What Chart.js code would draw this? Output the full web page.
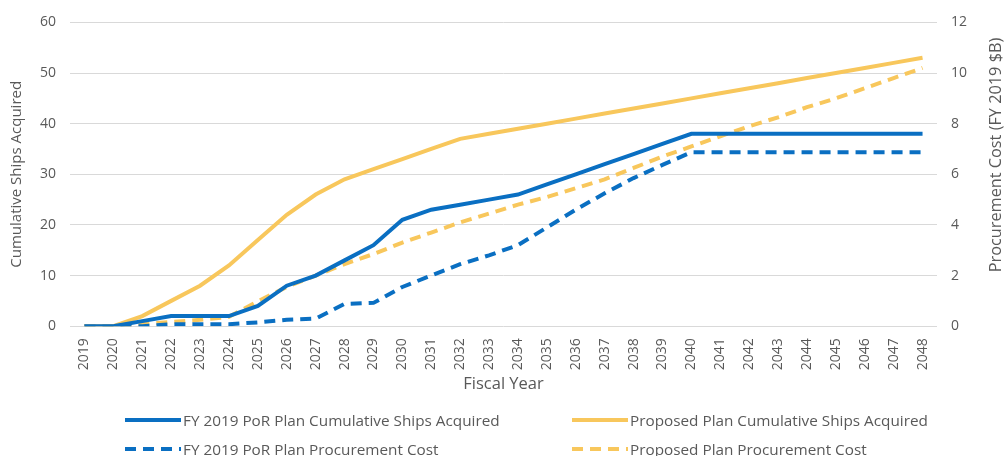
<!DOCTYPE html>
<html>
<head>
<meta charset="utf-8">
<script src="https://cdn.jsdelivr.net/npm/chart.js@4"></script>
<style>
  html, body { margin: 0; padding: 0; background: #fff; }
  #wrap { position: relative; width: 1007px; height: 456px; }
  #legend { position: absolute; left: 0; top: 0; width: 1007px; height: 456px; pointer-events: none;
            font-family: "Open Sans", sans-serif; font-size: 15.3px; color: #595959; }
  .item { position: absolute; display: flex; align-items: center; height: 20px; white-space: nowrap; }
  .item svg { margin-right: 2px; }
</style>
</head>
<body>
<div id="wrap">
  <canvas id="shipChart" width="1007" height="456"></canvas>
  <div id="legend"></div>
</div>
<script>
// --------- Data ---------
const years = [];
for (let y = 2019; y <= 2048; y++) years.push(String(y));

// left axis: cumulative ships
const porShips = [0, 0, 1, 2, 2, 2, 4, 8, 10, 13, 16, 21, 23, 24, 25, 26, 28, 30, 32, 34, 36, 38,
                  38, 38, 38, 38, 38, 38, 38, 38];
const proposedShips = [0, 0, 2, 5, 8, 12, 17, 22, 26, 29, 31, 33, 35, 37, 38, 39, 40, 41, 42, 43, 44, 45,
                       46, 47, 48, 49, 50, 51, 52, 53];

// right axis: procurement cost (FY 2019 $B)
const porCost = [0, 0, 0, 0.08, 0.08, 0.08, 0.15, 0.25, 0.3, 0.88, 0.92, 1.55, 2.0, 2.45, 2.8, 3.2, 3.9, 4.6, 5.25, 5.85, 6.37, 6.87,
                 6.87, 6.87, 6.87, 6.87, 6.87, 6.87, 6.87, 6.87];
const proposedCost = [0, 0, 0.09, 0.17, 0.25, 0.37, 0.98, 1.55, 2.0, 2.45, 2.85, 3.3, 3.7, 4.1, 4.45, 4.8, 5.1, 5.45, 5.8, 6.25, 6.7, 7.1,
                      7.5, 7.9, 8.25, 8.65, 9.0, 9.4, 9.8, 10.2];

const leftTicks = [0, 10, 20, 30, 40, 50, 60];
const rightTicks = [0, 2, 4, 6, 8, 10, 12];

const BLUE = '#0A6FC2';
const YELLOW = '#F8C75C';
const TEXT = '#595959';
const FONT = '"Open Sans", sans-serif';
const RIGHT_TITLE = 'Procurement Cost (FY 2019 $B)';

const datasets = [
    { label: 'FY 2019 PoR Plan Cumulative Ships Acquired', data: porShips, borderColor: BLUE, yAxisID: 'y', dash: [] },
    { label: 'Proposed Plan Cumulative Ships Acquired', data: proposedShips, borderColor: YELLOW, yAxisID: 'y', dash: [] },
    { label: 'FY 2019 PoR Plan Procurement Cost', data: porCost, borderColor: BLUE, yAxisID: 'y1', dash: [11, 7] },
    { label: 'Proposed Plan Procurement Cost', data: proposedCost, borderColor: YELLOW, yAxisID: 'y1', dash: [11, 7] }
].map((d, i) => ({
    label: d.label,
    data: d.data,
    yAxisID: d.yAxisID,
    borderColor: d.borderColor,
    backgroundColor: d.borderColor,
    borderWidth: 4,
    borderDash: d.dash,
    pointRadius: 0,
    tension: 0,
    fill: false,
    order: i + 1
}));

// right axis title reads bottom-to-top like the left one
const rightTitlePlugin = {
    id: 'rightTitle',
    afterDraw(chart) {
        const c = chart.ctx;
        c.save();
        c.translate(996, 155);
        c.rotate(-Math.PI / 2);
        c.fillStyle = TEXT;
        c.font = '16.3px ' + FONT;
        c.textAlign = 'center';
        c.textBaseline = 'middle';
        c.fillText(RIGHT_TITLE, 0, 0);
        c.restore();
    }
};

const ctx = document.getElementById('shipChart').getContext('2d');
const shipChart = new Chart(ctx, {
    type: 'line',
    data: { labels: years, datasets: datasets },
    plugins: [rightTitlePlugin],
    options: {
        responsive: false,
        animation: false,
        layout: { padding: { top: 10, bottom: 62, left: 8, right: 8 } },
        plugins: {
            legend: { display: false },
            tooltip: { enabled: false }
        },
        scales: {
            x: {
                offset: true,
                grid: { display: false },
                border: { display: false },
                ticks: { color: TEXT, font: { family: FONT, size: 14 }, minRotation: 90, maxRotation: 90, autoSkip: false, padding: 4 },
                title: { display: true, text: 'Fiscal Year', color: TEXT, font: { family: FONT, size: 16.5 }, padding: { top: 0, bottom: 0 } }
            },
            y: {
                position: 'left',
                min: 0, max: 60,
                afterBuildTicks: axis => { axis.ticks = leftTicks.map(v => ({ value: v })); },
                grid: { color: '#D9D9D9', lineWidth: 1, drawTicks: false },
                border: { display: false },
                ticks: { color: TEXT, font: { family: FONT, size: 14 }, padding: 14 },
                title: { display: true, text: 'Cumulative Ships Acquired', color: TEXT, font: { family: FONT, size: 15 }, padding: 0 }
            },
            y1: {
                position: 'right',
                min: 0, max: 12,
                afterBuildTicks: axis => { axis.ticks = rightTicks.map(v => ({ value: v })); },
                grid: { display: false, drawTicks: false },
                border: { display: false },
                ticks: { color: TEXT, font: { family: FONT, size: 14 }, padding: 14 },
                title: { display: true, text: RIGHT_TITLE, color: 'rgba(0,0,0,0)', font: { family: FONT, size: 15 }, padding: 0 }
            }
        }
    }
});

// --------- Legend (HTML, two columns) ---------
const legendPos = [
    { x: 125, y: 410 }, { x: 572, y: 410 },
    { x: 125, y: 439 }, { x: 572, y: 439 }
];
const legendBox = document.getElementById('legend');
shipChart.data.datasets.forEach((ds, i) => {
    const item = document.createElement('div');
    item.className = 'item';
    item.style.left = legendPos[i].x + 'px';
    item.style.top = legendPos[i].y + 'px';
    const dash = ds.borderDash.length ? `stroke-dasharray="${ds.borderDash.join(',')}"` : '';
    item.innerHTML = `<svg width="56" height="6"><line x1="0" y1="3" x2="56" y2="3" stroke="${ds.borderColor}" stroke-width="4" ${dash}/></svg><span>${ds.label}</span>`;
    legendBox.appendChild(item);
});
</script>
</body>
</html>
